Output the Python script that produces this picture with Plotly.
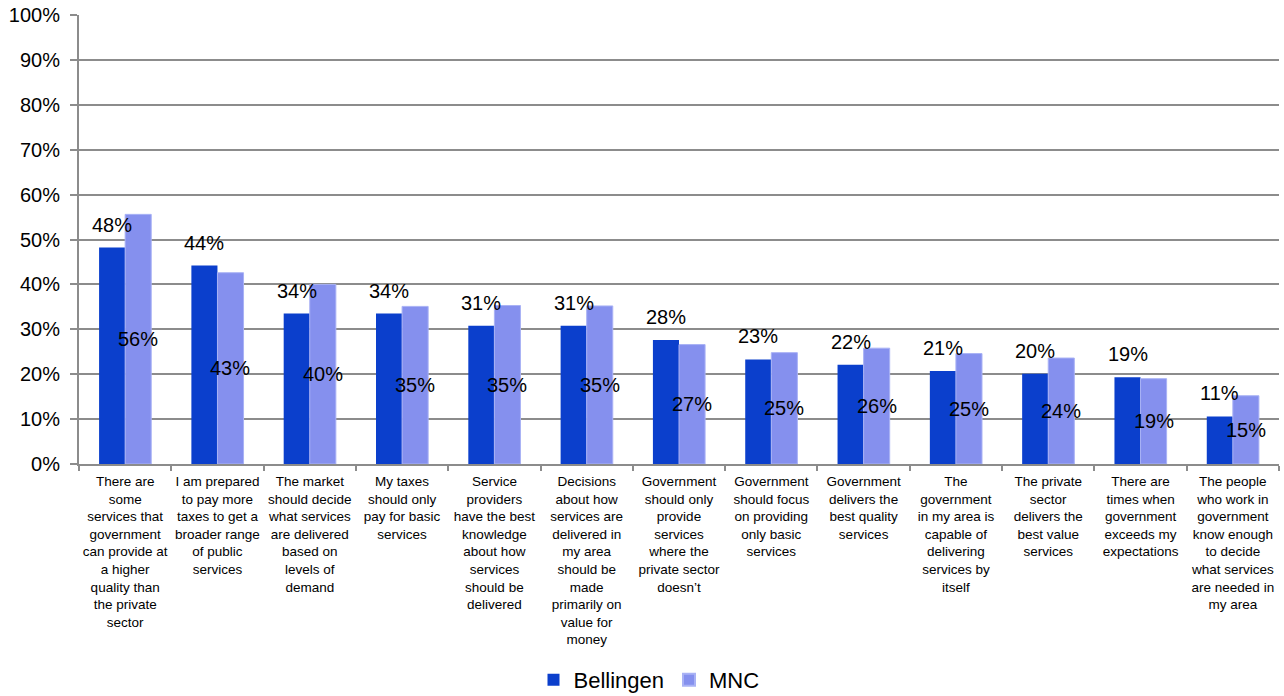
import plotly.graph_objects as go

categories = [
    "There are<br>some<br>services that<br>government<br>can provide at<br>a higher<br>quality than<br>the private<br>sector",
    "I am prepared<br>to pay more<br>taxes to get a<br>broader range<br>of public<br>services",
    "The market<br>should decide<br>what services<br>are delivered<br>based on<br>levels of<br>demand",
    "My taxes<br>should only<br>pay for basic<br>services",
    "Service<br>providers<br>have the best<br>knowledge<br>about how<br>services<br>should be<br>delivered",
    "Decisions<br>about how<br>services are<br>delivered in<br>my area<br>should be<br>made<br>primarily on<br>value for<br>money",
    "Government<br>should only<br>provide<br>services<br>where the<br>private sector<br>doesn\u2019t",
    "Government<br>should focus<br>on providing<br>only basic<br>services",
    "Government<br>delivers the<br>best quality<br>services",
    "The<br>government<br>in my area is<br>capable of<br>delivering<br>services by<br>itself",
    "The private<br>sector<br>delivers the<br>best value<br>services",
    "There are<br>times when<br>government<br>exceeds my<br>expectations",
    "The people<br>who work in<br>government<br>know enough<br>to decide<br>what services<br>are needed in<br>my area",
]

bellingen = [48.2, 44.2, 33.5, 33.5, 30.8, 30.8, 27.6, 23.3, 22.1, 20.7, 20.1, 19.3, 10.6]
mnc = [55.6, 42.6, 40.0, 35.1, 35.3, 35.2, 26.6, 24.8, 25.8, 24.6, 23.6, 19.0, 15.2]

series_names = ["Bellingen", "MNC"]
colors = ["#0B3FCC", "#8590EE"]

FONT = "Liberation Sans, Arial, sans-serif"

fig = go.Figure()
fig.add_trace(go.Bar(x=categories, y=bellingen, name=series_names[0],
                     marker=dict(color=colors[0], line=dict(width=0))))
fig.add_trace(go.Bar(x=categories, y=mnc, name=series_names[1],
                     marker=dict(color=colors[1], line=dict(width=1, color="#A9B2F5"))))

annotations = []
for c, v in zip(categories, bellingen):
    annotations.append(dict(x=c, y=v, xref="x", yref="y", text=f"{round(v)}%",
                            showarrow=False, xshift=-13, yshift=23,
                            yanchor="middle", xanchor="center",
                            font=dict(family=FONT, size=20, color="#000000")))
for c, v in zip(categories, mnc):
    annotations.append(dict(x=c, y=v / 2, xref="x", yref="y", text=f"{round(v)}%",
                            showarrow=False, xshift=13,
                            yanchor="middle", xanchor="center",
                            font=dict(family=FONT, size=20, color="#000000")))

fig.update_layout(
    width=1284, height=696,
    margin=dict(l=79, r=5, t=15, b=232, autoexpand=False),
    paper_bgcolor="white", plot_bgcolor="white",
    barmode="group", bargap=0.435, bargroupgap=0,
    font=dict(family=FONT, color="#000000"),
    annotations=annotations,
    showlegend=True,
    legend=dict(orientation="h", x=0.475, y=-0.481, xanchor="center", yanchor="middle",
                font=dict(family=FONT, size=22, color="#000000"),
                itemsizing="constant", traceorder="normal"),
)

fig.update_yaxes(range=[0, 100], dtick=10, ticksuffix="%",
                 showgrid=True, gridcolor="#8C8C8C", gridwidth=1.5,
                 showline=True, linecolor="#8C8C8C", linewidth=2,
                 ticks="outside", ticklen=7, tickcolor="#8C8C8C", tickwidth=1.5,
                 ticklabelstandoff=6, automargin=False,
                 tickfont=dict(family=FONT, size=20, color="#000000"),
                 zeroline=False, fixedrange=True)
fig.update_xaxes(showline=True, linecolor="#8C8C8C", linewidth=2,
                 ticks="outside", tickson="boundaries", ticklen=5,
                 tickcolor="#8C8C8C", tickwidth=1.5,
                 tickangle=0, automargin=False, ticklabelstandoff=4,
                 tickfont=dict(family=FONT, size=13.5, color="#000000"),
                 fixedrange=True)

fig.write_html("out.html",
               config={"displayModeBar": False},
               post_script="document.body.style.margin='0';document.body.style.overflow='hidden';")
